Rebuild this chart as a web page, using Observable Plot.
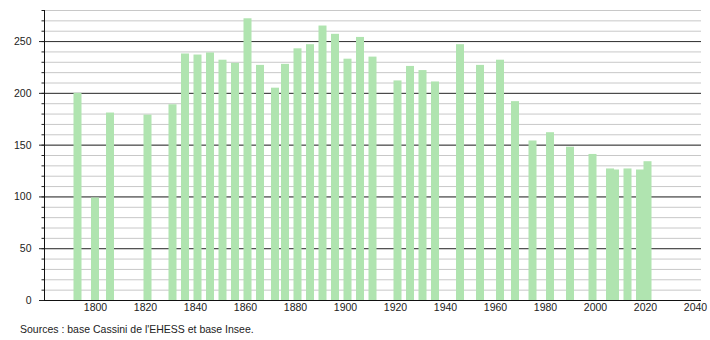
<!DOCTYPE html>
<html>
<head>
<meta charset="utf-8">
<script src="https://cdn.jsdelivr.net/npm/d3@7"></script>
<script src="https://cdn.jsdelivr.net/npm/@observablehq/plot@0.6"></script>
<style>
  html, body { margin: 0; padding: 0; background: #fff; }
  #chart svg { display: block; }
  #caption { font-family: "Liberation Sans", Arial, sans-serif; font-size: 10.5px; color: #222; height: 22px; line-height: 22px; padding-left: 20px; }
</style>
</head>
<body>
<div id="chart"></div>
<div id="caption">Sources : base Cassini de l'EHESS et base Insee.</div>
<script>
const years = [1793,1800,1806,1821,1831,1836,1841,1846,1851,1856,1861,1866,1872,1876,1881,1886,1891,1896,1901,1906,1911,1921,1926,1931,1936,1946,1954,1962,1968,1975,1982,1990,1999,2006,2008,2013,2018,2021];
const population = [200,99,181,179,189,238,237,239,232,229,272,227,205,228,243,247,265,257,233,254,235,212,226,222,211,247,227,232,192,154,162,148,141,127,126,127,126,134];
const xTicks = [1800,1820,1840,1860,1880,1900,1920,1940,1960,1980,2000,2020,2040];
const yMajorTicks = [0,50,100,150,200,250];
const yMinorTicks = [0,10,20,30,40,50,60,70,80,90,100,110,120,130,140,150,160,170,180,190,200,210,220,230,240,250,260,270,280];

const data = years.map((y, i) => ({year: y, pop: population[i]}));
const halfBar = 1.6;

const chart = Plot.plot({
  width: 710,
  height: 318,
  marginLeft: 44,
  marginRight: 9,
  marginTop: 10,
  marginBottom: 18,
  style: {fontFamily: "'Liberation Sans', Arial, sans-serif", fontSize: "10.5px", color: "#222", background: "#fff"},
  x: {domain: [1779.6, 2042.4]},
  y: {domain: [0, 280]},
  marks: [
    Plot.gridY(yMinorTicks, {stroke: "#c8c8c8", strokeOpacity: 1}),
    Plot.gridY(yMajorTicks, {stroke: "#333", strokeOpacity: 1}),
    Plot.rectY(data, {x1: d => d.year - halfBar, x2: d => d.year + halfBar, y1: 0, y2: "pop", fill: "#b0e4b0"}),
    Plot.axisY(yMinorTicks, {tickSize: 2.5, tickFormat: () => "", stroke: "#222", label: null}),
    Plot.axisY(yMajorTicks, {tickSize: 5, tickPadding: 8, label: null, fill: "#222", stroke: "#222"}),
    Plot.axisX(xTicks, {tickSize: 0, tickPadding: 3, tickFormat: d => String(d), label: null, fill: "#222"}),
    Plot.ruleX([1779.6], {y1: 0, y2: 280, stroke: "#111"}),
    Plot.ruleY([0], {stroke: "#111"})
  ]
});
document.getElementById("chart").appendChild(chart);
</script>
</body>
</html>
